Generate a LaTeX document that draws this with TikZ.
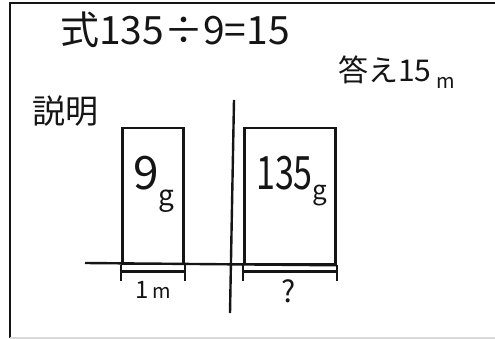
\documentclass[tikz,border=0pt]{standalone}
\usepackage{fontspec}
\setmainfont{Noto Sans CJK JP}
\usepackage{tikz}
\usetikzlibrary{positioning,calc}
\definecolor{ink}{HTML}{151515}
\definecolor{edge}{HTML}{D8D8D8}
\tikzset{
  barbox/.style={
    rectangle, draw=ink, line width=2.6pt,
    inner sep=0pt
  },
  inkline/.style={
    draw=ink, line width=#1
  },
  inkline/.default=2.4pt,
  handtext/.style={
    font=\fontsize{#1}{#1}\selectfont, text=ink,
    inner sep=0pt, anchor=base west
  },
  handtext/.default=30,
}

\begin{document}
\begin{tikzpicture}[x=1pt, y=-1pt]
  \useasboundingbox (0,0) rectangle (495,339);

  % ── Frame ────────────────
  \coordinate (ftl) at (10,3);
  \coordinate (ftr) at (495,3);
  \coordinate (fbl) at (10,338);
  \coordinate (fbr) at (495,338);
  \draw[inkline=1.8pt] (ftr) -- (ftl) -- (fbl);
  \draw[draw=edge, line width=1.5pt] (fbl) -- (fbr);

  % ── Formula and answer ───
  \node[handtext=39] (shiki) at (60,45) {式135÷9=15};
  \node[handtext=30] (kotae) at (338,82)
    {答え15\,\raisebox{-7pt}{\fontsize{20}{20}\selectfont m}};
  \node[handtext=33] (setsu) at (32,124) {説明};

  % ── Bars ─────────────────
  \node[barbox, minimum width=61pt, minimum height=136pt] (lbox) at (153,196) {};
  \node[barbox, minimum width=91pt, minimum height=136pt] (rbox) at (290,196) {};
  \node[handtext=46, anchor=north west] (lmass) at (133,156)
    {9\raisebox{-16pt}{\fontsize{28}{28}\selectfont g}};
  \node[handtext=46, anchor=north west] (rmass) at (256,156)
    {\scalebox{0.74}[1]{135}\raisebox{-10pt}{\fontsize{26}{26}\selectfont g}};

  % ── Ground line and divider ──
  \coordinate (gl) at (85,263);
  \coordinate (vtop) at (234,100);
  \coordinate (vbot) at (230,313);
  \draw[inkline] (gl) -- (rbox.south east);
  \draw[inkline] (vtop) -- (vbot);

  % ── Width marks ──────────
  \draw[inkline]
    (lbox.south west) -- ++(0,16)
    (lbox.south east) -- ++(0,16)
    ([yshift=-6pt]lbox.south west) -- ([yshift=-6pt]lbox.south east);
  \draw[inkline]
    (rbox.south west) -- ++(0,16)
    (rbox.south east) -- ++(0,16)
    ([yshift=-6pt]rbox.south west) -- ([yshift=-6pt]rbox.south east);
  \node[handtext=24, anchor=north] (lwid) at (153,281)
    {1\,\fontsize{20}{20}\selectfont m};
  \node[handtext=30, anchor=north] (rwid) at (289,279) {?};
\end{tikzpicture}
\end{document}
